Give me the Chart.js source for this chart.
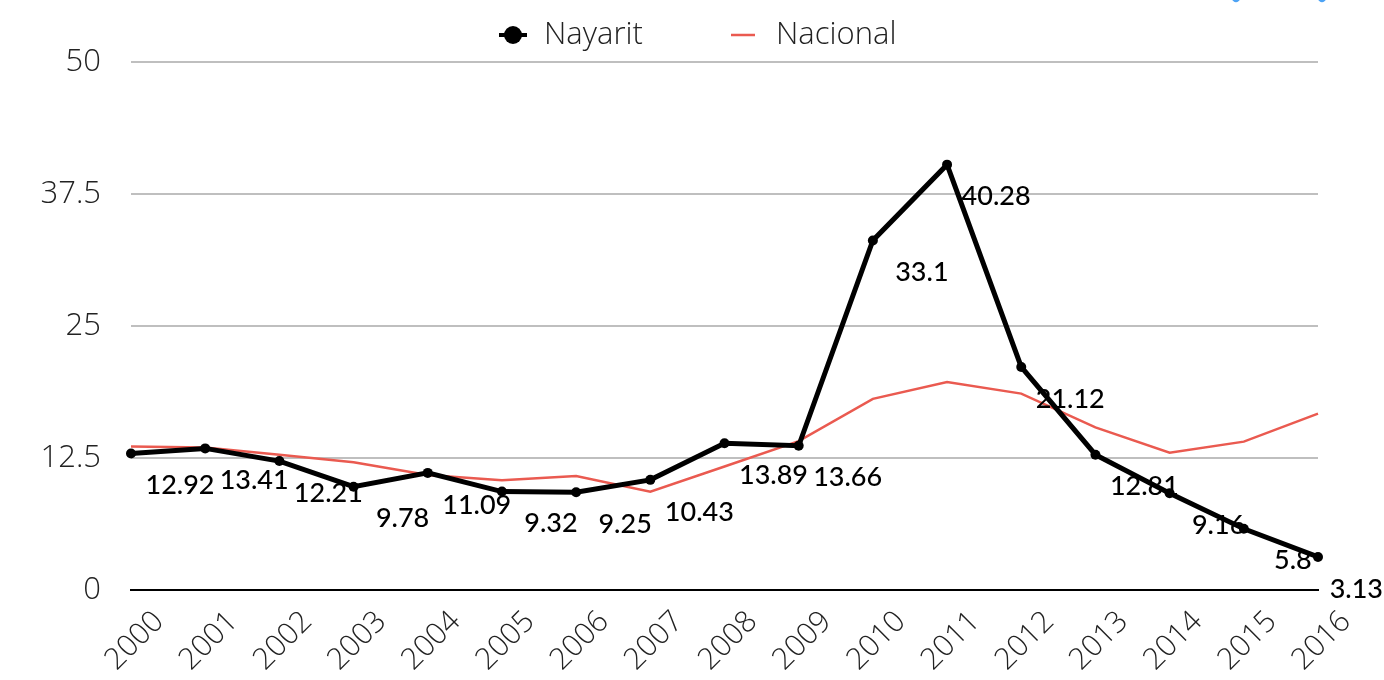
<!DOCTYPE html>
<html>
<head>
<meta charset="utf-8">
<script src="https://cdn.jsdelivr.net/npm/chart.js@4/dist/chart.umd.min.js"></script>
<style>
  html, body { margin: 0; padding: 0; background: #fff; }
  #wrap { position: relative; width: 1384px; height: 680px; overflow: hidden; }
  .pin { position: absolute; top: -18px; width: 18px; height: 18px; background: #4da3f5;
         transform: rotate(45deg); border-radius: 4px; }
</style>
</head>
<body>
<div id="wrap">
  <canvas id="chart" width="1384" height="680"></canvas>
  <div class="pin" style="left:1227px"></div>
  <div class="pin" style="left:1313px"></div>
</div>
<script>
// data
const years = ['2000','2001','2002','2003','2004','2005','2006','2007','2008',
               '2009','2010','2011','2012','2013','2014','2015','2016'];
const nayarit = [12.92, 13.41, 12.21, 9.78, 11.09, 9.32, 9.25, 10.43, 13.89,
                 13.66, 33.1, 40.28, 21.12, 12.81, 9.16, 5.8, 3.13];
const nacional = [13.6, 13.5, 12.8, 12.1, 10.9, 10.4, 10.8, 9.3, 11.7,
                  14.1, 18.1, 19.7, 18.6, 15.4, 13.0, 14.05, 16.7];
const yTicks = [0, 12.5, 25, 37.5, 50];

const thinFont = '"Open Sans"';

// value labels below-right of each Nayarit point
const pointLabels = {
    id: 'pointLabels',
    afterDatasetsDraw(chart) {
        const ctx = chart.ctx;
        const meta = chart.getDatasetMeta(0);
        ctx.save();
        ctx.fillStyle = '#000';
        ctx.font = '500 27px Lato';
        ctx.textAlign = 'center';
        ctx.textBaseline = 'middle';
        meta.data.forEach((pt, i) => {
            const txt = String(nayarit[i]);
            const w = ctx.measureText(txt).width;
            // keep the last label inside the canvas
            const x = Math.min(pt.x + 49, chart.width - w / 2 - 1);
            ctx.fillText(txt, x, pt.y + 32);
        });
        ctx.restore();
    }
};

// legend drawn by hand so the spacing matches
const topLegend = {
    id: 'topLegend',
    afterDraw(chart) {
        const ctx = chart.ctx;
        const y = 35;
        ctx.save();
        ctx.font = '300 31px ' + thinFont;
        ctx.textBaseline = 'middle';
        // Nayarit: dot with line
        ctx.strokeStyle = '#000';
        ctx.lineWidth = 4;
        ctx.beginPath();
        ctx.moveTo(499, y); ctx.lineTo(527, y); ctx.stroke();
        ctx.fillStyle = '#000';
        ctx.beginPath();
        ctx.arc(513, y, 9, 0, Math.PI * 2); ctx.fill();
        ctx.fillStyle = '#222';
        ctx.fillText(chart.data.datasets[0].label, 544, y);
        // Nacional: red line
        ctx.strokeStyle = chart.data.datasets[1].borderColor;
        ctx.lineWidth = 2.5;
        ctx.beginPath();
        ctx.moveTo(731, y); ctx.lineTo(755, y); ctx.stroke();
        ctx.fillText(chart.data.datasets[1].label, 776, y);
        ctx.restore();
    }
};

const ctx = document.getElementById('chart').getContext('2d');
new Chart(ctx, {
    type: 'line',
    data: {
        labels: years,
        datasets: [{
            label: 'Nayarit',
            data: nayarit,
            borderColor: '#000',
            backgroundColor: '#000',
            borderWidth: 5,
            pointRadius: 5,
            pointBorderWidth: 0,
            tension: 0
        }, {
            label: 'Nacional',
            data: nacional,
            borderColor: '#ea5a50',
            backgroundColor: '#ea5a50',
            borderWidth: 2.5,
            pointRadius: 0,
            tension: 0
        }]
    },
    options: {
        responsive: false,
        animation: false,
        layout: { padding: { left: 0, right: 66, top: 62, bottom: 0 } },
        plugins: {
            legend: { display: false },
            tooltip: { enabled: false }
        },
        scales: {
            x: {
                offset: false,
                grid: { display: false },
                border: { color: '#000', width: 2 },
                ticks: {
                    maxRotation: 45,
                    minRotation: 45,
                    color: '#222',
                    padding: 6,
                    labelOffset: 28,
                    font: { family: thinFont, size: 30, weight: '300' }
                },
                afterFit(scale) { scale.height = 90; }
            },
            y: {
                min: 0,
                max: 50,
                afterBuildTicks(scale) { scale.ticks = yTicks.map(v => ({ value: v })); },
                grid: {
                    color: '#bfbfbf',
                    lineWidth: 2,
                    drawTicks: false
                },
                border: { display: false },
                ticks: {
                    padding: 30,
                    color: '#222',
                    font: { family: thinFont, size: 31, weight: '300' }
                },
                afterFit(scale) { scale.width = 131; }
            }
        }
    },
    plugins: [pointLabels, topLegend]
});
</script>
</body>
</html>
